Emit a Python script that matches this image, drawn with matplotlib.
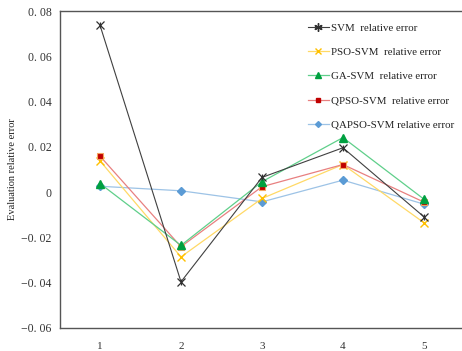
import matplotlib
matplotlib.use("Agg")
import matplotlib.pyplot as plt
from matplotlib.lines import Line2D

samples = [1, 2, 3, 4, 5]
svm = [0.0737, -0.0396, 0.0065, 0.0196, -0.0109]
pso_svm = [0.0138, -0.0286, -0.0028, 0.0122, -0.0135]
ga_svm = [0.0038, -0.0235, 0.0046, 0.0241, -0.0031]
qpso_svm = [0.0159, -0.0241, 0.0024, 0.0122, -0.0044]
qapso_svm = [0.0026, 0.0006, -0.0043, 0.0053, -0.0053]
yticks = [0.08, 0.06, 0.04, 0.02, 0.0, -0.02, -0.04, -0.06]
ytick_labels = ["0. 08", "0. 06", "0. 04", "0. 02", "0", "\u22120. 02", "\u22120. 04", "\u22120. 06"]
labels = ["SVM  relative error", "PSO-SVM  relative error", "GA-SVM  relative error",
          "QPSO-SVM  relative error", "QAPSO-SVM relative error"]

fig = plt.figure(figsize=(4.62, 3.51), dpi=100)
ax = fig.add_axes([60/462, 23/351, 402/462, 317/351])

serif = ["Liberation Serif", "DejaVu Serif"]

ax.plot(samples, qapso_svm, color="#9DC3E6", lw=0.9, marker="D", ms=4, mfc="#5B9BD5", mec="#5B9BD5", zorder=2)
ax.plot(samples, pso_svm, color="#FFD966", lw=0.9, marker="x", ms=6, mec="#FFC000", mew=1.0, zorder=3)
ax.plot(samples, qpso_svm, color="#E88080", lw=0.9, marker="s", ms=5, mfc="#C00000", mec="#F4A460", mew=0.8, zorder=4)
ax.plot(samples, ga_svm, color="#5FCF8A", lw=0.9, marker="^", ms=6, mfc="#00A040", mec="#00A040", zorder=5)
ax.plot(samples, svm, color="#404040", lw=0.8, marker="x", ms=6, mec="#303030", mew=0.9, zorder=6)
ax.plot(samples, svm, ls="none", marker="|", ms=4, mec="#303030", mew=0.9, zorder=6)

ax.set_xlim(0.506, 5.47)
ax.set_ylim(-0.06, 0.08)
ax.set_xticks(samples)
ax.set_xticklabels([str(s) for s in samples], family=serif, fontsize=8, color="#333333")
ax.set_yticks(yticks)
ax.set_yticklabels(ytick_labels, family=serif, fontsize=8.5, color="#333333")
ax.tick_params(length=0)
ax.tick_params(axis="y", pad=6)
ax.tick_params(axis="x", pad=10)
ax.spines["right"].set_visible(False)
for s in ["left", "bottom", "top"]:
    ax.spines[s].set_color("#555555")
    ax.spines[s].set_linewidth(1.0)
ax.set_ylabel("Evaluation relative error", family=serif, fontsize=7.5, color="#222222", labelpad=3)

handles = [
    Line2D([], [], color="#404040", lw=0.8, marker=(6, 2, 0), ms=6, mec="#303030"),
    Line2D([], [], color="#FFD966", lw=0.9, marker="x", ms=5, mec="#FFC000"),
    Line2D([], [], color="#5FCF8A", lw=0.9, marker="^", ms=4, mfc="#00A040", mec="#00A040"),
    Line2D([], [], color="#E88080", lw=0.9, marker="s", ms=3.5, mfc="#C00000", mec="#C00000"),
    Line2D([], [], color="#9DC3E6", lw=0.9, marker="D", ms=3, mfc="#5B9BD5", mec="#5B9BD5"),
]
leg = ax.legend(handles, labels, loc="upper left", bbox_to_anchor=(0.605, 0.975), frameon=False,
                prop={"family": serif, "size": 7.8}, handlelength=2.0, handletextpad=0.2,
                labelspacing=1.35, borderaxespad=0)
for t in leg.get_texts():
    t.set_color("#222222")

fig.savefig("out.png", dpi=100)
